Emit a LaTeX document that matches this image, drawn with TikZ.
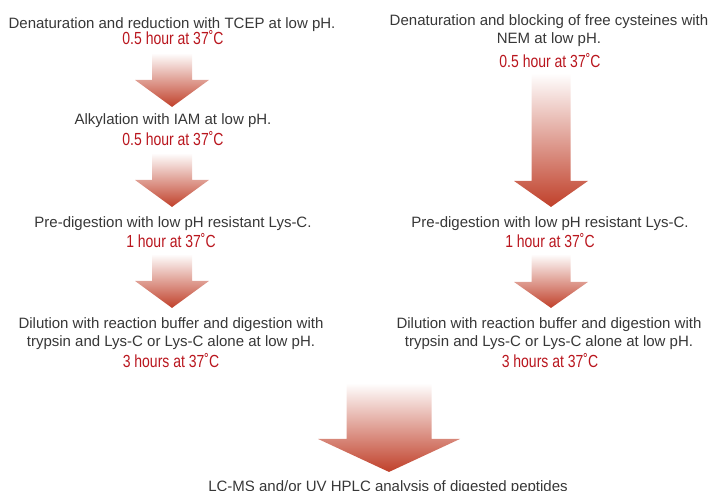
\documentclass[tikz,border=0pt]{standalone}
\usepackage{fontspec}
\setmainfont{Liberation Sans}
\newfontfamily\condfont[FakeStretch=0.8]{Liberation Sans}
\usetikzlibrary{calc}
\definecolor{textgray}{RGB}{55,55,55}
\definecolor{timered}{RGB}{185,22,30}
\definecolor{arrowred}{RGB}{192,64,42}
\tikzset{
  steptext/.style={text=textgray,font=\fontsize{15}{18}\selectfont,align=center,inner sep=0pt,anchor=base},
  timetext/.style={text=timered,font=\condfont\fontsize{17.5}{20}\selectfont,inner sep=0pt,anchor=base},
  arrowfill/.style={top color=white,bottom color=arrowred}
}
%freccia sfumata: punta alta, punta bassa, mezza asta, mezza testa, altezza testa
\newcommand{\flowarrow}[5]{%
  \shade[arrowfill] let \p1=(#1), \p2=(#2) in
    (\x1-#3,\y1) -- (\x1+#3,\y1) -- (\x1+#3,\y2+#5) -- (\x1+#4,\y2+#5)
    -- (\x1,\y2) -- (\x1-#4,\y2+#5) -- (\x1-#3,\y2+#5) -- cycle;}
\begin{document}
\begin{tikzpicture}[x=1pt,y=-1pt]
        \useasboundingbox (0,0) rectangle (709,490);
        %colonna sinistra
        \node[steptext](redA) at (172,28){Denaturation and reduction with TCEP at low pH.};
        \node[timetext](timeA) at (173,44){0.5 hour at 37˚C};
        \node[steptext](alkA) at (173,124){Alkylation with IAM at low pH.};
        \node[timetext](timeB) at (173,145){0.5 hour at 37˚C};
        \node[steptext](preA) at (173,227){Pre-digestion with low pH resistant Lys-C.};
        \node[timetext](timeC) at (171,247){1 hour at 37˚C};
        \node[steptext](dilA) at (171,346){Dilution with reaction buffer and digestion with\\trypsin and Lys-C or Lys-C alone at low pH.};
        \node[timetext](timeD) at (171,367){3 hours at 37˚C};
        %colonna destra
        \node[steptext](blockB) at (549,43){Denaturation and blocking of free cysteines with\\NEM at low pH.};
        \node[timetext](timeE) at (550,67){0.5 hour at 37˚C};
        \node[steptext](preB) at (550,227){Pre-digestion with low pH resistant Lys-C.};
        \node[timetext](timeF) at (550,247){1 hour at 37˚C};
        \node[steptext](dilB) at (549,346){Dilution with reaction buffer and digestion with\\trypsin and Lys-C or Lys-C alone at low pH.};
        \node[timetext](timeG) at (550,367){3 hours at 37˚C};
        %analisi finale
        \node[steptext](lcms) at (388,491){LC-MS and/or UV HPLC analysis of digested peptides};
        %frecce
        \flowarrow{$(timeA.base-|172,0)+(0,9)$}{$(alkA.north)+(0,-6)$}{20pt}{37pt}{27pt}
        \flowarrow{$(timeB.base-|172,0)+(0,8)$}{$(preA.north)+(0,-9)$}{20pt}{37pt}{27pt}
        \flowarrow{$(timeC.base-|172,0)+(0,7)$}{$(dilA.north)+(0,-9)$}{20pt}{37pt}{27pt}
        \flowarrow{$(timeE.base-|551,0)+(0,6)$}{$(preB.north)+(0,-9)$}{19.5pt}{37pt}{26pt}
        \flowarrow{$(timeF.base-|551,0)+(0,7)$}{$(dilB.north)+(0,-9)$}{19.5pt}{37pt}{26pt}
        \flowarrow{$(timeG.base-|389,0)+(0,16)$}{$(lcms.north)+(0,-8)$}{42.5pt}{71pt}{33pt}
    \end{tikzpicture}
\end{document}
